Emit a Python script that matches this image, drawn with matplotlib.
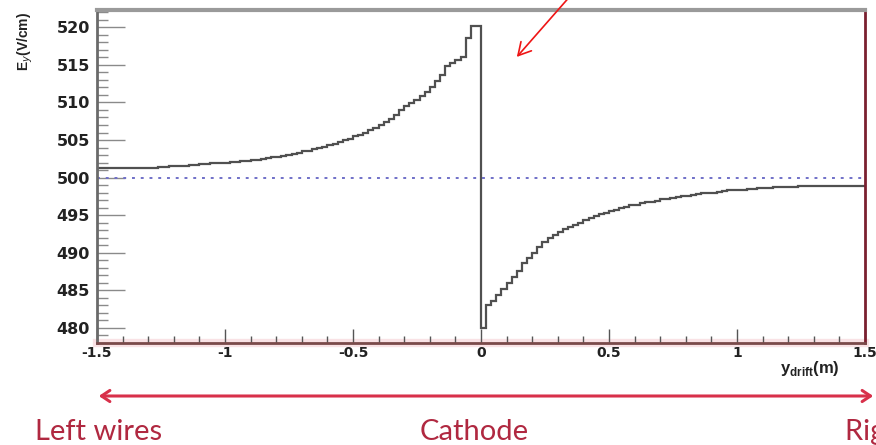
import numpy as np
import matplotlib.pyplot as plt
from matplotlib.patches import FancyArrowPatch
from matplotlib.ticker import MultipleLocator

# E_y along the drift direction, 0.02 m bins from -1.5 to 1.5 m
left_field = [501.3] * 12 + [
    501.4, 501.4, 501.5, 501.5, 501.6, 501.6, 501.7, 501.7, 501.8, 501.8,
    501.9, 501.9, 502.0, 502.0, 502.1, 502.1, 502.2, 502.2, 502.3, 502.4,
    502.5, 502.6, 502.7, 502.8, 502.9, 503.0, 503.2, 503.3, 503.5, 503.6,
    503.8, 503.9, 504.1, 504.3, 504.5, 504.7, 505.0, 505.2, 505.5, 505.7,
    506.0, 506.3, 506.6, 507.0, 507.4, 507.8, 508.3, 509.0, 509.5, 509.9,
    510.3, 510.9, 511.4, 512.0, 512.8, 513.6, 514.8, 515.2, 515.6, 516.1,
    518.6, 520.2, 520.2]
right_field = [
    480.0, 483.0, 483.6, 484.4, 485.2, 486.0, 486.8, 487.6, 488.6, 489.3,
    490.0, 490.8, 491.4, 492.0, 492.4, 492.8, 493.1, 493.4, 493.7, 494.0,
    494.3, 494.6, 494.9, 495.1, 495.3, 495.5, 495.7, 495.9, 496.1, 496.3,
    496.4, 496.6, 496.7, 496.8, 496.9, 497.1, 497.2, 497.3, 497.4, 497.5,
    497.6, 497.7, 497.8, 497.9, 498.0, 498.0, 498.1, 498.2, 498.3, 498.3,
    498.4, 498.4, 498.5, 498.5, 498.6, 498.6, 498.6, 498.7, 498.7, 498.7,
    498.8, 498.8] + [498.9] * 13
nominal_field = 500.0
x_ticks = [-1.5, -1, -0.5, 0, 0.5, 1, 1.5]
x_tick_labels = ['-1.5', '-1', '-0.5', '0', '0.5', '1', '1.5']
region_labels = ['Left wires', 'Cathode', 'Right wires']

field = np.array(left_field + right_field)
edges = np.linspace(-1.5, 1.5, len(field) + 1)

plt.rcParams['font.family'] = ['DejaVu Sans']

fig = plt.figure(figsize=(8.76, 4.45), dpi=100)
ax = fig.add_axes([97 / 876, 102 / 445, 768 / 876, 333 / 445])

ax.stairs(field, edges, color='#505050', lw=1.6, baseline=None)
ax.axhline(nominal_field, color='#7070c8', lw=1.4, ls=(0, (1.5, 3)))
# soft pink band along the x axis
ax.axhline(478, color='#f9e2e5', lw=6, zorder=0.5, clip_on=False)

ax.set_xlim(-1.5, 1.5)
ax.set_ylim(478, 522.3)

ax.xaxis.set_minor_locator(MultipleLocator(0.1))
ax.yaxis.set_major_locator(MultipleLocator(5))
ax.yaxis.set_minor_locator(MultipleLocator(1))
ax.set_xticks(x_ticks)
ax.set_xticklabels(x_tick_labels)
ax.tick_params(axis='y', which='major', direction='in', length=20, width=1, color='#8a8a8a',
               labelsize=11.5, pad=5)
ax.tick_params(axis='y', which='minor', direction='in', length=8, width=1, color='#8a8a8a')
ax.tick_params(axis='x', which='major', direction='in', length=10, width=1, color='#555555',
               labelsize=10, pad=2)
ax.tick_params(axis='x', which='minor', direction='in', length=5, width=1, color='#555555')
for lab in ax.get_xticklabels() + ax.get_yticklabels():
    lab.set_fontweight('bold')
    lab.set_color('#222222')

ax.spines['top'].set_color('#9a9a9a')
ax.spines['top'].set_linewidth(3)
ax.spines['left'].set_color('#6a6a6a')
ax.spines['left'].set_linewidth(2)
ax.spines['bottom'].set_color('#7a4a4a')
ax.spines['bottom'].set_linewidth(2)
ax.spines['right'].set_color('#7a2030')
ax.spines['right'].set_linewidth(2)

fig.text(25 / 876, 1 - 12 / 445, r'E$_y$(V/cm)', rotation=90, ha='center', va='top',
         fontsize=10, fontweight='bold', color='#222222', family=['Liberation Sans'])
fig.text(780 / 876, 1 - 373 / 445, r'y$_{\mathregular{drift}}$(m)', ha='left', va='baseline',
         fontsize=12, fontweight='bold', color='#222222', family=['Liberation Sans'])

# drift region arrow and labels underneath
fig.patches.append(FancyArrowPatch(
    (96 / 876, 1 - 396 / 445), (876 / 876, 1 - 396 / 445), transform=fig.transFigure,
    arrowstyle='<->,head_length=6,head_width=4', color='#d8304a', lw=2.2))
label_x = [35, 420, 845]
for text, x in zip(region_labels, label_x):
    fig.text(x / 876, 1 - 440 / 445, text, ha='left', va='baseline', fontsize=21,
             family=['Lato', 'DejaVu Sans'], color='#b02840')

# pointer toward the cathode peak
fig.patches.append(FancyArrowPatch(
    (572 / 876, 1 + 6 / 445), (515 / 876, 1 - 59 / 445), transform=fig.transFigure,
    arrowstyle='->,head_length=9,head_width=5', color='#ee1515', lw=1.2))

fig.savefig('out.png', dpi=100)
